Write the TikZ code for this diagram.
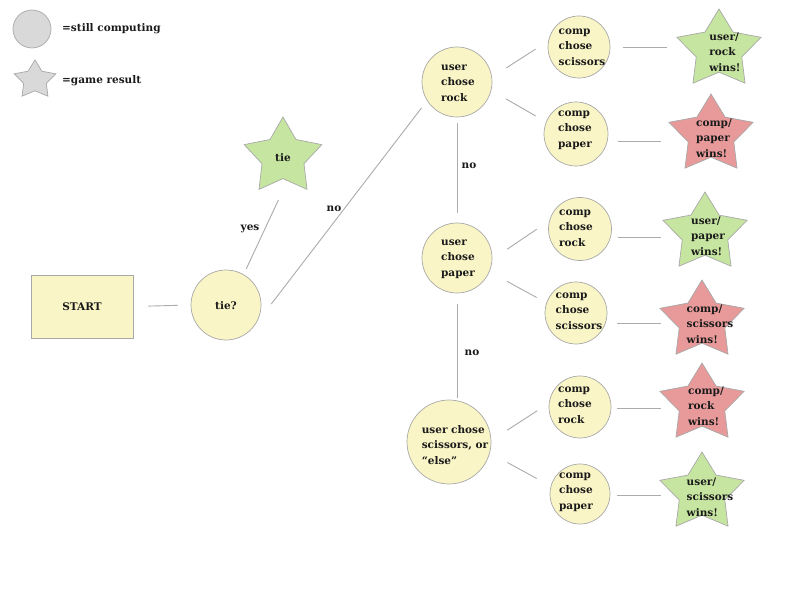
\documentclass[tikz,border=0pt]{standalone}
\usepackage{fontspec}
\setmainfont{DejaVu Serif}
\usetikzlibrary{shapes.geometric}
\definecolor{cyellow}{HTML}{F9F5C7}
\definecolor{bordercol}{HTML}{A8A8A8}
\definecolor{cgreen}{HTML}{C6E5A0}
\definecolor{cred}{HTML}{E89A9A}
\definecolor{legendgray}{HTML}{D9D9D9}
\definecolor{linecol}{HTML}{ABABAB}
\definecolor{txtcol}{HTML}{1A1A1A}
\begin{document}
\begin{tikzpicture}[x=1pt,y=-1pt,
  every node/.style={font=\fontsize{10.5}{15.6}\selectfont\bfseries, text=txtcol},
  cnode/.style={circle, draw=bordercol, fill=cyellow, line width=0.7pt, inner sep=0pt, minimum size=#1},
  starn/.style={star, star points=5, star point ratio=1.85, draw=bordercol, line width=0.7pt, inner sep=0pt, transform shape, fill=#1},
  txt/.style={align=left, inner sep=0pt},
  conn/.style={draw=linecol, line width=0.9pt}
]
\path[use as bounding box] (0,0) rectangle (792,612);

% legend
\node[circle, draw=bordercol, fill=legendgray, line width=0.7pt, inner sep=0pt, minimum size=38pt] (lc) at (32,29) {};
\node[txt, anchor=west] (lct) at (62,29) {=still computing};
\begin{scope}[shift={(35,80)}, xscale=1.1]
\node[starn=legendgray, minimum size=40pt] (ls) at (0,0) {};
\end{scope}
\node[txt, anchor=west] (lst) at (62,81) {=game result};

% start and tie
\node[rectangle, draw=bordercol, fill=cyellow, line width=0.7pt, minimum width=102pt, minimum height=63pt] (start) at (82,306.5) {START};
\node[cnode=70pt] (tie) at (226,305) {};
\node[txt] (tiet) at (226,306) {tie?};
\begin{scope}[shift={(283,157)}, xscale=1.02]
\node[starn=cgreen, minimum size=80pt] (ties) at (0,0) {};
\end{scope}
\node[txt] (tiest) at (283,158) {tie};

% user choices
\node[cnode=70pt] (ur) at (457,82) {};
\node[txt] (urt) at (458,83) {user\\chose\\rock};
\node[cnode=70pt] (up) at (457,258) {};
\node[txt] (upt) at (458,259) {user\\chose\\paper};
\node[cnode=84pt] (us) at (449,442) {};
\node[txt] (ust) at (455,445) {user chose\\scissors, or\\“else”};

% comp choices
\node[cnode=62pt] (cs1) at (579,47) {};
\node[txt] (cs1t) at (582,47) {comp\\chose\\scissors};
\node[cnode=64pt] (cp1) at (576,134) {};
\node[txt] (cp1t) at (575,130) {comp\\chose\\paper};
\node[cnode=63pt] (cr1) at (580,229) {};
\node[txt] (cr1t) at (576,228) {comp\\chose\\rock};
\node[cnode=62pt] (csc1) at (576,313) {};
\node[txt] (csc1t) at (579,311) {comp\\chose\\scissors};
\node[cnode=62pt] (cr2) at (580,407) {};
\node[txt] (cr2t) at (575,405) {comp\\chose\\rock};
\node[cnode=60pt] (cp2) at (580,494) {};
\node[txt] (cp2t) at (576,492) {comp\\chose\\paper};

% results
\begin{scope}[shift={(719,50)}, xscale=1.08]
\node[starn=cgreen, minimum size=82pt] (s1) at (0,0) {};
\end{scope}
\node[txt] (s1t) at (725,52) {user/\\rock\\wins!};
\begin{scope}[shift={(711,135)}, xscale=1.08]
\node[starn=cred, minimum size=82pt] (s2) at (0,0) {};
\end{scope}
\node[txt] (s2t) at (714,138) {comp/\\paper\\wins!};
\begin{scope}[shift={(705,233)}, xscale=1.08]
\node[starn=cgreen, minimum size=82pt] (s3) at (0,0) {};
\end{scope}
\node[txt] (s3t) at (708,236) {user/\\paper\\wins!};
\begin{scope}[shift={(702,321)}, xscale=1.08]
\node[starn=cred, minimum size=82pt] (s4) at (0,0) {};
\end{scope}
\node[txt] (s4t) at (710,324) {comp/\\scissors\\wins!};
\begin{scope}[shift={(702,404)}, xscale=1.08]
\node[starn=cred, minimum size=82pt] (s5) at (0,0) {};
\end{scope}
\node[txt] (s5t) at (706,406) {comp/\\rock\\wins!};
\begin{scope}[shift={(702,493)}, xscale=1.08]
\node[starn=cgreen, minimum size=82pt] (s6) at (0,0) {};
\end{scope}
\node[txt] (s6t) at (710,497) {user/\\scissors\\wins!};

% connectors
\draw[conn, shorten <=15pt, shorten >=13pt] (start.east) -- (tie.west);
\draw[conn, shorten <=6pt, shorten >=21pt] (tie.60) -- (ties.-80);
\draw[conn, shorten <=28pt, shorten >=9pt] (tie.-37) -- (ur.212);

\draw[conn, shorten <=17pt, shorten >=15pt] (ur.8) -- (cs1.169);
\draw[conn, shorten <=17pt, shorten >=12pt] (ur.-14) -- (cp1.158);
\draw[conn, shorten <=18pt, shorten >=15pt] (up.-2) -- (cr1.165);
\draw[conn, shorten <=20pt, shorten >=11pt] (up.-23) -- (csc1.161);
\draw[conn, shorten <=19pt, shorten >=14pt] (us.2.5) -- (cr2.173);
\draw[conn, shorten <=20pt, shorten >=16pt] (us.-15) -- (cp2.165);

\draw[conn, shorten <=6pt, shorten >=10pt] (ur.south) -- (up.north);
\draw[conn, shorten <=11pt, shorten >=2pt] (up.south) -- (up.south |- us.north);

\draw[conn, shorten <=13pt, shorten >=52pt] (cs1.0) -- (cs1.0 -| s1.center);
\draw[conn, shorten <=11pt, shorten >=50pt] (cp1.-14.5) -- (cp1.-14.5 -| s2.center);
\draw[conn, shorten <=7pt, shorten >=44pt] (cr1.-16.6) -- (cr1.-16.6 -| s3.center);
\draw[conn, shorten <=12pt, shorten >=41pt] (csc1.-20.8) -- (csc1.-20.8 -| s4.center);
\draw[conn, shorten <=6pt, shorten >=41pt] (cr2.-2) -- (cr2.-2 -| s5.center);
\draw[conn, shorten <=7pt, shorten >=41pt] (cp2.-2) -- (cp2.-2 -| s6.center);

% edge labels
\node[txt] (lyes) at (250,229) {yes};
\node[txt] (lno1) at (334,209) {no};
\node[txt] (lno2) at (469,166) {no};
\node[txt] (lno3) at (472,353) {no};
\end{tikzpicture}
\end{document}
